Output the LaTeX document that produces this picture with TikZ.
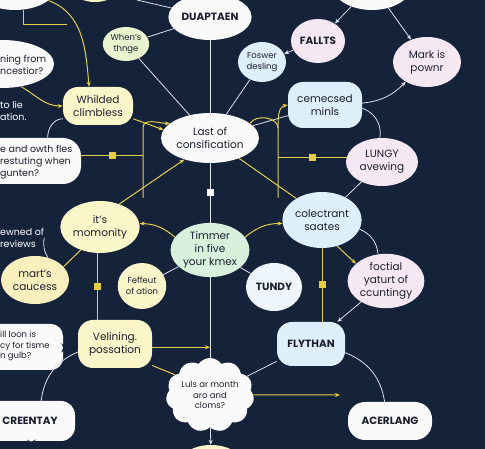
\documentclass[tikz,border=0pt]{standalone}
\usepackage{fontspec}
\setmainfont{Poppins}
\usetikzlibrary{shapes.geometric,shapes.symbols,shapes.callouts,arrows.meta}

\definecolor{navy}{HTML}{14223A}
\definecolor{lineW}{HTML}{DCE1EB}
\definecolor{lineY}{HTML}{E6CD46}
\definecolor{ink}{HTML}{1B1F2E}
\definecolor{cwhite}{HTML}{FAFAFA}
\definecolor{cpink}{HTML}{F6E8F3}
\definecolor{cblue}{HTML}{DDEFF9}
\definecolor{cice}{HTML}{EEF6FB}
\definecolor{cyel}{HTML}{FBF5CA}
\definecolor{cmart}{HTML}{FAF0BE}
\definecolor{cgreen}{HTML}{D7F1DC}
\definecolor{clime}{HTML}{E9F4CF}

\newcommand\bubblefont{\fontsize{10.5}{12.8}\selectfont}
\newcommand\sidefont{\fontsize{9.5}{12}\selectfont}
\newcommand\smallfont{\fontsize{8.5}{10.5}\selectfont}
\newcommand\capsfont{\fontsize{10.5}{12}\selectfont\bfseries}

\begin{document}
\begin{tikzpicture}[x=1pt, y=1pt, >={Stealth[length=5pt,width=4pt]},
    bubble/.style={ellipse, inner sep=1pt, align=center, text=ink, font=\bubblefont},
    pill/.style={rectangle, rounded corners=15pt, inner sep=1pt, align=center, text=ink, font=\bubblefont},
    small/.style={font=\smallfont},
    caps/.style={font=\capsfont},
    txt/.style={anchor=west, align=left, inner sep=0pt, text=white, font=\sidefont},
    wline/.style={draw=lineW, line width=0.8pt},
    yline/.style={draw=lineY, line width=1pt},
    ysq/.style={fill=lineY, minimum size=7pt, inner sep=0pt},
    wsq/.style={fill=white, minimum size=7pt, inner sep=0pt}]
    \useasboundingbox (0,0) rectangle (485,449);
    \fill[navy] (0,0) rectangle (485,449);

    % nodes, top to bottom
    \node[bubble, fill=cwhite, minimum width=85, minimum height=50] (tl) at (15,464) {};
    \node[bubble, fill=cyel, minimum width=40, minimum height=20] (ty) at (95,457) {};
    \node[bubble, fill=cwhite, minimum width=80, minimum height=50] (tr) at (372,464) {};
    \node[bubble, fill=cwhite, minimum width=70, minimum height=46, caps] (duap) at (210,432) {DUAPTAEN};
    \node[bubble, fill=clime, minimum width=46, minimum height=34, small] (when) at (126,405) {When's\\thnge};
    \node[bubble, fill=cwhite, minimum width=104, minimum height=48] (ning) at (2,385) {};
    \node[txt, text=ink] (ning-t) at (0,384) {ning from\\ncestior?};
    \node[pill, fill=cyel, minimum width=70, minimum height=38] (whil) at (98,343) {Whilded\\climbless};
    \node[txt] (tolie) at (0,338) {to lie\\ation.};
    \node[pill, fill=cwhite, minimum width=122, minimum height=46, rounded corners=18pt] (owth) at (20,288) {};
    \node[txt, text=ink] (owth-t) at (0,287) {e and owth fles\\restuting when\\gunten?};
    \node[bubble, fill=cwhite, minimum width=80, minimum height=50] (last) at (210,311) {Last of\\consification};
    \node[bubble, fill=cpink, minimum width=54, minimum height=44, caps] (fallts) at (318,408) {FALLTS};
    \node[bubble, fill=cpink, minimum width=68, minimum height=50] (mark) at (427,387) {Mark is\\pownr};
    \node[bubble, fill=cblue, minimum width=48, minimum height=40, small] (fosw) at (262,387) {Foswer\\desling};
    \node[pill, fill=cblue, minimum width=74, minimum height=46] (ceme) at (325,344) {cemecsed\\minls};
    \node[bubble, fill=cpink, minimum width=72, minimum height=48] (lungy) at (382,287) {LUNGY\\avewing};
    \node[bubble, fill=cblue, minimum width=70, minimum height=56] (colec) at (322,229) {colectrant\\saates};
    \node[bubble, fill=cyel, minimum width=68, minimum height=52] (its) at (100,222) {it's\\momonity};
    \node[txt] (ewned) at (0,211) {ewned of\\reviews};
    \node[bubble, fill=cgreen, minimum width=76, minimum height=52] (timm) at (210,199) {Timmer\\in five\\your kmex};
    \node[bubble, fill=cpink, minimum width=72, minimum height=54] (foct) at (386,168) {foctial\\yaturt of\\ccuntingy};
    \node[bubble, fill=cice, minimum width=56, minimum height=48, caps] (tundy) at (274,162) {TUNDY};
    \node[bubble, fill=cmart, minimum width=68, minimum height=48] (mart) at (35,169) {mart's\\caucess};
    \node[bubble, fill=cyel, minimum width=44, minimum height=46, small] (feff) at (142,163) {Feffeut\\of ation};
    \node[pill, fill=cyel, minimum width=74, minimum height=48] (veli) at (115,105) {Velining.\\possation};
    \node[pill, fill=cblue, minimum width=68, minimum height=44, caps] (flyth) at (311,105) {FLYTHAN};
    \node[rectangle callout, rounded corners=12pt, fill=cwhite, minimum width=82, minimum height=46,
        callout absolute pointer={(69,101)}] (loon) at (22,102) {};
    \node[txt, text=ink, small] (loon-t) at (0,103) {ill loon is\\cy for tisme\\n gulb?};
    \node[cloud, cloud puffs=11, cloud puff arc=110, aspect=1.25, fill=cwhite, minimum width=88,
        minimum height=72, inner sep=0pt, align=center, text=ink, font=\smallfont] (cloud) at (210,54) {Luls ar month\\aro and\\cloms?};
    \node[rectangle callout, rounded corners=14pt, fill=cwhite, minimum width=90, minimum height=40,
        callout absolute pointer={(32,0)}, text=ink, caps] (creen) at (30,28) {CREENTAY};
    \node[pill, fill=cwhite, minimum width=84, minimum height=38, rounded corners=17pt, caps] (acer) at (390,28) {ACERLANG};
    \node[bubble, fill=cyel, minimum width=60, minimum height=34] (bot) at (211,-13) {};

    % white connectors
    \coordinate (t1) at (137,449);
    \draw[wline] (t1) -- (duap);
    \draw[wline] (when) -- (duap);
    \draw[wline] (when) -- (last);
    \draw[wline] (fosw) -- (last);
    \draw[wline] (duap) -- (last);
    \draw[wline] (last) -- (timm) node[wsq, midway] {};
    \draw[wline] (timm) -- (cloud);
    \draw[wline, ->] (cloud) -- (bot);
    \draw[wline, ->] (fallts) -- (fosw);
    \draw[wline, ->] (tr) -- (fallts);
    \draw[wline, ->] (tr) -- (mark);
    \draw[wline, ->] (ceme) to[bend right=20] (mark);
    \draw[wline] (ceme) to[bend left=40] (lungy);
    \draw[wline] (last) -- (ceme);
    \draw[wline] (whil.200) to[out=180, in=90] (owth.40);
    \draw[wline] (timm) -- (feff);
    \draw[wline] (timm) -- (tundy);
    \draw[wline] (lungy) -- (colec);
    \draw[wline] (colec) to[bend left=30] (foct);
    \draw[wline, ->] (foct) -- (flyth);
    \draw[wline] (flyth) -- (cloud);
    \draw[wline] (flyth) to[bend left=30] (acer);
    \draw[wline] (veli) to[bend right=30] (creen);
    \draw[wline] (ewned.east) to[bend right=20] (mart.60);

    % yellow connectors
    \coordinate (y1) at (67,424);
    \coordinate (lb) at (143,251);
    \coordinate (lt) at (143,321);
    \coordinate (rb) at (278,251);
    \coordinate (rt) at (278,321);
    \coordinate (ca) at (340,54);
    \draw[yline] (tl.-70) |- (y1);
    \draw[yline, ->] (tl.-25) to[out=-20, in=95] (whil.115);
    \draw[yline, ->] (ning.-50) to[out=-30, in=180] (whil.west);
    \draw[yline, ->] (whil.-20) -- (last.170);
    \draw[yline] (owth.5) -- (owth.5 -| lb) node[ysq, midway] {};
    \draw[yline, ->] (lb) -- (lt) to[out=90, in=180] (last.160);
    \draw[yline] (lungy.172) -- (lungy.172 -| rb) node[ysq, midway] {};
    \draw[yline] (last.20) to[out=60, in=90] (rt);
    \draw[yline, ->] (rb) -- (rt) to[out=90, in=190] (ceme.west);
    \draw[yline] (last.-35) -- (colec.140);
    \draw[yline, ->] (its.50) -- (last.-140);
    \draw[yline, ->] (timm.160) to[bend right=20] (its.5);
    \draw[yline, ->] (timm.20) to[bend left=20] (colec.185);
    \draw[yline, ->] (colec.-60) -- (foct.150);
    \draw[yline] (colec.south) -- (colec.south |- flyth.north) node[ysq, midway] {};
    \draw[yline] (its.-95) -- (its.-95 |- veli.north) node[ysq, midway] {};
    \draw[yline] (its.-130) -- (mart.25);
    \draw[yline, ->] (veli.-5) -- (veli.-5 -| timm.south);
    \draw[yline] (veli.-30) -- (cloud.150);
    \draw[yline, ->] (cloud.east) -- (ca);
\end{tikzpicture}
\end{document}
